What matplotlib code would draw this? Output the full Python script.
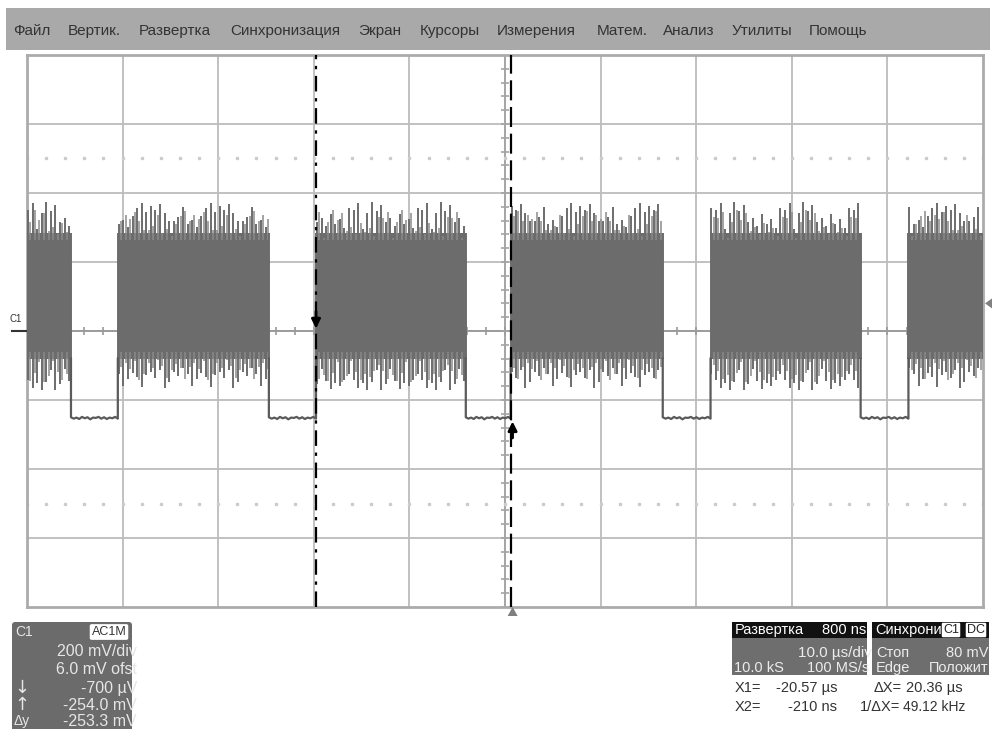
import matplotlib.pyplot as plt
import matplotlib.patches as mpatches
import numpy as np

plt.rcParams['font.family'] = ['Liberation Sans', 'DejaVu Sans']

# screen: 10 us/div horizontally, 200 mV/div vertically
t_lim = (-50.8, 49.2)          # us
v_lim = (-800, 800)            # mV

menu_items = ["Файл", "Вертик.", "Развертка", "Синхронизация", "Экран", "Курсоры",
              "Измерения", "Матем.", "Анализ", "Утилиты", "Помощь"]
menu_x = [13, 68, 139, 230, 358, 420, 497, 597, 663, 732, 809]

# burst start / stop times (us)
burst_on = [-50.8, -41.3, -20.57, -0.21, 20.7, 41.4]
burst_off = [-46.2, -25.5, -4.9, 15.7, 36.4, 49.2]
body_top = 284                 # mV, solid part of the carrier
body_bot = -80
low_level = -252               # mV, level between bursts

up_peaks = [352, 318, 371, 330, 296, 360, 341, 309, 375, 322, 348, 301, 366, 334, 315,
            357, 327, 372, 305, 345, 338, 362, 311, 350, 324, 369, 300, 343, 356, 319]
down_peaks = [-142, -118, -165, -131, -152, -108, -170, -126, -147, -160, -114, -138, -172, -122, -155,
              -133, -111, -163, -145, -128, -168, -119, -150, -136, -158, -112, -141, -166, -124, -149]
low_noise = [-250, -254, -251, -255, -249, -253, -250, -256, -251, -252, -249, -254,
             -250, -255, -251, -253, -249, -254]

x1_cursor = -20.57
x2_cursor = -0.21
y1_cursor = -0.7
y2_cursor = -254.0
trig_level = 80

fig = plt.figure(figsize=(9.92, 7.29), dpi=100)
W, H = 992, 729

ax = fig.add_axes([27 / W, (H - 607) / H, 956 / W, 552 / H])
ax.set_xlim(t_lim)
ax.set_ylim(v_lim)
ax.set_xticks([])
ax.set_yticks([])
for s in ax.spines.values():
    s.set_color('#ababab')
    s.set_linewidth(2)

grid_c = '#bcbcbc'
for k in range(1, 10):
    ax.axvline(t_lim[0] + 10 * k, color=grid_c, lw=1.3, zorder=1)
for k in range(1, 8):
    ax.axhline(v_lim[0] + 200 * k, color=grid_c, lw=1.3, zorder=1)

# centre lines with minor ticks
tc = t_lim[0] + 50
ax.axhline(0, color='#9a9a9a', lw=1.3, zorder=1)
ax.axvline(tc, color='#a4a4a4', lw=1.3, zorder=1)
mt = np.arange(t_lim[0], t_lim[1] + 0.01, 2)
ax.vlines(mt, -12, 12, color='#9a9a9a', lw=1.2, zorder=1)
mv = np.arange(v_lim[0], v_lim[1] + 1, 40)
ax.hlines(mv, tc - 0.4, tc + 0.4, color='#a4a4a4', lw=1.2, zorder=1)
for yv in (500, -500):
    ax.plot(mt, np.full(len(mt), yv), ls='none', marker='s', ms=1.5, color='#cccccc', zorder=1)

# trace
tr = '#6c6c6c'
for i, (a, b) in enumerate(zip(burst_on, burst_off)):
    ax.fill_between([a, b], body_bot, body_top, color=tr, lw=0, zorder=3)
    ts = np.arange(a + 0.1, b - 0.05, 0.24)
    for j, t in enumerate(ts):
        k = (j + 7 * i) % len(up_peaks)
        k2 = (j + 13 * i + 5) % len(up_peaks)
        if j % 2 == 0:
            ax.vlines(t, body_top - 20, up_peaks[k], color=tr, lw=1.4, zorder=3)
            ax.vlines(t, down_peaks[k], body_bot + 20, color=tr, lw=1.4, zorder=3)
        else:
            ax.vlines(t, body_top - 20, up_peaks[k2] - 25, color='#8a8a8a', lw=1.1, zorder=3)
            ax.vlines(t, down_peaks[k2] + 25, body_bot + 20, color='#8a8a8a', lw=1.1, zorder=3)
    ax.vlines([a, b], body_bot, body_top, color=tr, lw=1.4, zorder=3)

for i in range(len(burst_off) - 1):
    a, b = burst_off[i], burst_on[i + 1]
    tl = np.linspace(a, b, len(low_noise))
    xs = [a] + list(tl) + [b]
    ys = [body_bot] + low_noise + [body_bot]
    ax.plot(xs, ys, color='#5a5a5a', lw=1.6, zorder=3)

# cursors
ax.axvline(x1_cursor, color='black', lw=1.6, ls=(0, (7, 3, 1.5, 3)), zorder=5)
ax.axvline(x2_cursor, color='black', lw=1.6, ls=(0, (9, 3)), zorder=5)
ax.annotate('', xy=(x1_cursor, y1_cursor), xytext=(x1_cursor, 65),
            arrowprops=dict(arrowstyle='-|>', color='black', lw=2, mutation_scale=13), zorder=6)
ax.annotate('', xy=(x2_cursor + 0.2, y2_cursor), xytext=(x2_cursor + 0.2, -318),
            arrowprops=dict(arrowstyle='-|>', color='black', lw=2, mutation_scale=13), zorder=6)

# overlay in pixel coordinates
ov = fig.add_axes([0, 0, 1, 1], zorder=10)
ov.set_xlim(0, W)
ov.set_ylim(H, 0)
ov.axis('off')
ov.patch.set_alpha(0)

ov.add_patch(mpatches.Rectangle((6, 8), 984, 42, color='#a9a9a9', lw=0))
for name, x in zip(menu_items, menu_x):
    ov.text(x, 31, name, fontsize=11, color='#333333', va='center', ha='left')

# C1 ground marker, trigger markers
ov.text(10, 319, 'C1', fontsize=7, color='#333333', va='center')
ov.plot([12, 26], [331, 331], color='#333333', lw=1.5)
tpx = 27 + (0 - t_lim[0]) / (t_lim[1] - t_lim[0]) * 956
ov.add_patch(mpatches.Polygon([[tpx - 5, 616], [tpx + 5, 616], [tpx, 607]], color='#808080', lw=0))
ly = 55 + (v_lim[1] - trig_level) / (v_lim[1] - v_lim[0]) * 552
ov.add_patch(mpatches.Polygon([[992, ly - 5], [992, ly + 5], [985, ly]], color='#808080', lw=0))

# channel panel
box = mpatches.FancyBboxPatch((12, 622), 120, 110, boxstyle='round,pad=0,rounding_size=3',
                              color='#6b6b6b', lw=0)
ov.add_patch(box)
ov.text(15, 632, 'C1', fontsize=10, color='#e6e6e6', va='center')
ov.text(109, 632, 'AC1M', fontsize=9, color='#333333', va='center', ha='center',
        bbox=dict(boxstyle='round,pad=0.15', fc='white', ec='none'))
rows = [('', '200 mV/div', 652), ('', '6.0 mV ofst', 670), ('↓', '-700 µV', 688),
        ('↑', '-254.0 mV', 705), ('Δy', '-253.3 mV', 721)]
for lab, val, y in rows:
    t = ov.text(137, y, val, fontsize=11.5, color='#e6e6e6', va='center', ha='right')
    t.set_clip_path(box)
    if lab:
        fs = 10 if lab == 'Δy' else 13
        ov.text(14, y, lab, fontsize=fs, color='#e6e6e6', va='center',
                family=['DejaVu Sans'] if lab != 'Δy' else None)

# timebase panel
tb = mpatches.Rectangle((732, 622), 135, 53, color='#6e6e6e', lw=0)
ov.add_patch(tb)
ov.add_patch(mpatches.Rectangle((732, 622), 135, 16, color='#111111', lw=0))
ov.text(735, 630, 'Развертка', fontsize=10.5, color='white', va='center')
ov.text(866, 630, '800 ns', fontsize=10.5, color='white', va='center', ha='right')
t = ov.text(872, 653, '10.0 µs/div', fontsize=11, color='#ececec', va='center', ha='right')
t.set_clip_path(tb)
ov.text(734, 668, '10.0 kS', fontsize=10.5, color='#ececec', va='center')
t = ov.text(869, 668, '100 MS/s', fontsize=10.5, color='#ececec', va='center', ha='right')
t.set_clip_path(tb)

# trigger panel
tg = mpatches.Rectangle((872, 622), 117, 53, color='#6e6e6e', lw=0)
ov.add_patch(tg)
ov.add_patch(mpatches.Rectangle((872, 622), 117, 16, color='#111111', lw=0))
ov.text(875, 630, 'Синхрони', fontsize=10.5, color='white', va='center')
ov.text(951, 630, 'C1', fontsize=9, color='#222222', va='center', ha='center',
        bbox=dict(boxstyle='round,pad=0.1', fc='white', ec='none'))
ov.text(976, 630, 'DC', fontsize=9, color='#222222', va='center', ha='center',
        bbox=dict(boxstyle='round,pad=0.1', fc='white', ec='none'))
ov.text(876, 653, 'Стоп', fontsize=10.5, color='#ececec', va='center')
ov.text(988, 653, '80 mV', fontsize=10.5, color='#ececec', va='center', ha='right')
ov.text(876, 668, 'Edge', fontsize=10.5, color='#ececec', va='center')
ov.text(988, 668, 'Положит', fontsize=10.5, color='#ececec', va='center', ha='right')

# cursor readout
ov.text(735, 688, 'X1=', fontsize=10.5, color='#333333', va='center')
ov.text(837, 688, '-20.57 µs', fontsize=10.5, color='#333333', va='center', ha='right')
ov.text(902, 688, 'ΔX=', fontsize=10.5, color='#333333', va='center', ha='right')
ov.text(963, 688, '20.36 µs', fontsize=10.5, color='#333333', va='center', ha='right')
ov.text(735, 707, 'X2=', fontsize=10.5, color='#333333', va='center')
ov.text(837, 707, '-210 ns', fontsize=10.5, color='#333333', va='center', ha='right')
ov.text(900, 707, '1/ΔX=', fontsize=10.5, color='#333333', va='center', ha='right')
ov.text(965, 707, '49.12 kHz', fontsize=10, color='#333333', va='center', ha='right')

fig.savefig('out.png', dpi=100)
